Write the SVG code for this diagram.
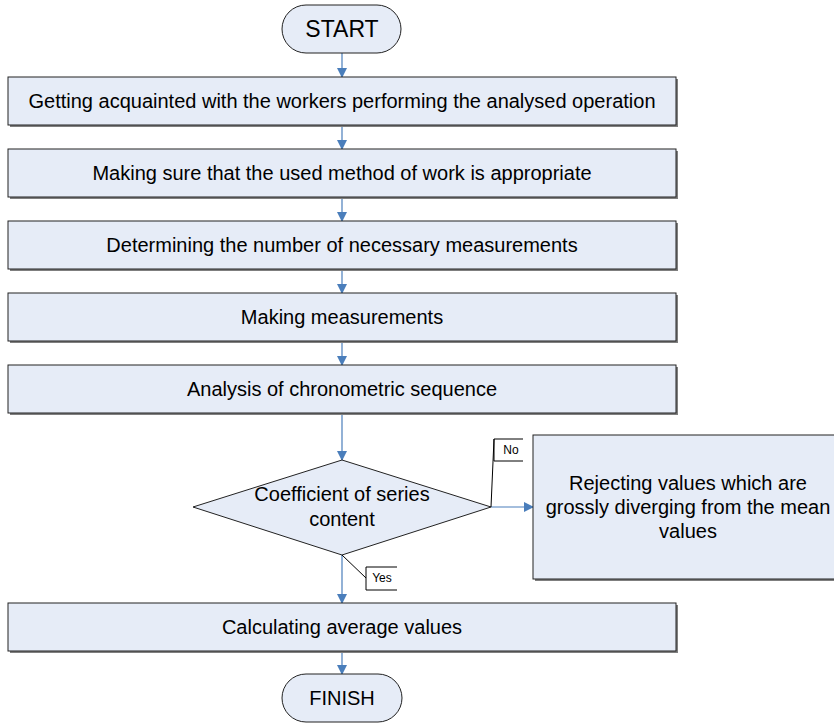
<svg xmlns="http://www.w3.org/2000/svg" width="834" height="724" viewBox="0 0 834 724">
<style>
.box{fill:#E6ECF7;stroke:#222;stroke-width:1}
.sh{fill:#7f7f7f}
.t{font-family:"Liberation Sans",Arial,sans-serif;font-size:20px;fill:#000;text-anchor:middle;dominant-baseline:central}
.ts{font-family:"Liberation Sans",Arial,sans-serif;font-size:12px;fill:#000;text-anchor:middle;dominant-baseline:central}
.c{fill:none;stroke:#4A7EBB;stroke-width:1.2}
.co{fill:none;stroke:#000;stroke-width:1}
</style>
<defs>
<marker id="ah" markerWidth="10" markerHeight="10" refX="9" refY="5" orient="auto" markerUnits="userSpaceOnUse">
<path d="M0,0 L10,5 L0,10 Z" fill="#4A7EBB"/>
</marker>
</defs>
<g id="connectors">
<line class="c" x1="342" y1="53" x2="342" y2="77" marker-end="url(#ah)"/>
<line class="c" x1="342" y1="125" x2="342" y2="149" marker-end="url(#ah)"/>
<line class="c" x1="342" y1="197" x2="342" y2="221" marker-end="url(#ah)"/>
<line class="c" x1="342" y1="269" x2="342" y2="293" marker-end="url(#ah)"/>
<line class="c" x1="342" y1="341" x2="342" y2="365" marker-end="url(#ah)"/>
<line class="c" x1="342" y1="413" x2="342" y2="460" marker-end="url(#ah)"/>
<line class="c" x1="342" y1="555" x2="342" y2="603" marker-end="url(#ah)"/>
<line class="c" x1="491" y1="507" x2="533" y2="507" marker-end="url(#ah)"/>
<line class="c" x1="342" y1="651" x2="342" y2="674" marker-end="url(#ah)"/>
</g>
<g id="start">
<rect class="box" x="282" y="5" width="119" height="48" rx="24"/>
<text class="t" x="342" y="29" style="font-size:23px">START</text>
</g>
<g id="n1">
<rect class="sh" x="10" y="79" width="668" height="48"/>
<rect class="box" x="8" y="77" width="668" height="48"/>
<text class="t" x="342" y="101">Getting acquainted with the workers performing the analysed operation</text>
</g>
<g id="n2">
<rect class="sh" x="10" y="151" width="668" height="48"/>
<rect class="box" x="8" y="149" width="668" height="48"/>
<text class="t" x="342" y="173">Making sure that the used method of work is appropriate</text>
</g>
<g id="n3">
<rect class="sh" x="10" y="223" width="668" height="48"/>
<rect class="box" x="8" y="221" width="668" height="48"/>
<text class="t" x="342" y="245">Determining the number of necessary measurements</text>
</g>
<g id="n4">
<rect class="sh" x="10" y="295" width="668" height="48"/>
<rect class="box" x="8" y="293" width="668" height="48"/>
<text class="t" x="342" y="317">Making measurements</text>
</g>
<g id="n5">
<rect class="sh" x="10" y="367" width="668" height="48"/>
<rect class="box" x="8" y="365" width="668" height="48"/>
<text class="t" x="342" y="389">Analysis of chronometric sequence</text>
</g>
<g id="decision">
<polygon class="box" points="342,460 491,507 342,555 193,507"/>
<text class="t" x="342" y="494">Coefficient of series</text>
<text class="t" x="342" y="519">content</text>
</g>
<g id="reject">
<rect class="sh" x="535" y="437" width="310" height="144"/>
<rect class="box" x="533" y="435" width="310" height="144"/>
<text class="t" x="688" y="483">Rejecting values which are</text>
<text class="t" x="688" y="507">grossly diverging from the mean</text>
<text class="t" x="688" y="531">values</text>
</g>
<g id="label-no">
<path class="co" d="M491,507 L494,439 M523,439 L494,439 L494,461 L523,461"/>
<text class="ts" x="511" y="450">No</text>
</g>
<g id="label-yes">
<path class="co" d="M342,555 L366,578 M397,567 L366,567 L366,590 L397,590"/>
<text class="ts" x="382" y="578">Yes</text>
</g>
<g id="n6">
<rect class="sh" x="10" y="605" width="668" height="48"/>
<rect class="box" x="8" y="603" width="668" height="48"/>
<text class="t" x="342" y="627">Calculating average values</text>
</g>
<g id="finish">
<rect class="box" x="282" y="674" width="120" height="48" rx="24"/>
<text class="t" x="342" y="698">FINISH</text>
</g>
</svg>
